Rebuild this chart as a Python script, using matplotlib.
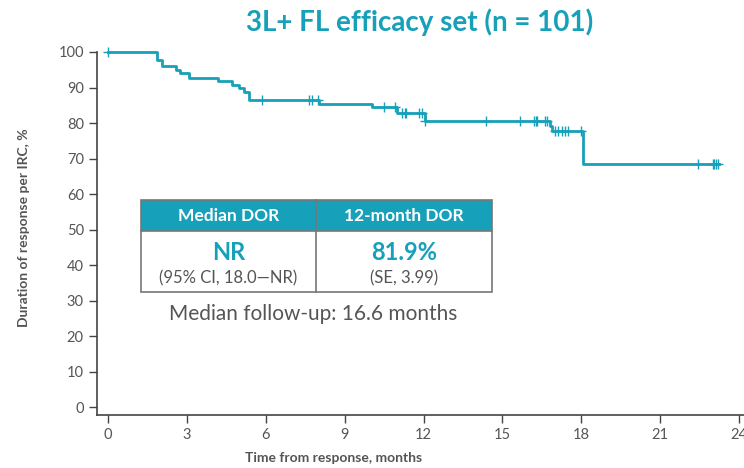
import numpy as np
import matplotlib
matplotlib.use('Agg')
import matplotlib.pyplot as plt
from matplotlib.patches import Rectangle

# KM step function (months, % in response)
step_times = [0, 1.88, 2.04, 2.6, 2.75, 3.06, 4.2, 4.7, 4.98, 5.18, 5.35,
              8.02, 10.05, 11.0, 12.04, 16.8, 16.9, 18.08]
step_surv = [100, 97.8, 96.0, 95.0, 94.0, 92.6, 91.7, 90.8, 89.8, 88.6, 86.5,
             85.3, 84.6, 82.9, 80.5, 79.2, 77.7, 68.4]
end_time = 23.25

# censored observations (months)
censor_times = [0, 5.85, 7.63, 7.76, 8.0, 10.49, 10.9, 11.19, 11.28, 11.35,
                11.82, 11.95, 12.07, 14.36, 15.67, 16.2, 16.27, 16.33, 16.62,
                16.71, 16.99, 17.12, 17.25, 17.37, 17.5, 17.98, 22.45, 22.99,
                23.06, 23.12, 23.2]

x_ticks = [0, 3, 6, 9, 12, 15, 18, 21, 24]
y_ticks = [0, 10, 20, 30, 40, 50, 60, 70, 80, 90, 100]

title = '3L+ FL efficacy set (n = 101)'
table_head = ['Median DOR', '12-month DOR']
table_main = ['NR', '81.9%']
table_sub = ['(95% CI, 18.0\u2014NR)', '(SE, 3.99)']
follow_up = 'Median follow-up: 16.6 months'

teal = '#17A0B9'
grey = '#555555'
W, H = 744, 468

plt.rcParams['font.family'] = ['Lato', 'DejaVu Sans']

fig = plt.figure(figsize=(W / 100, H / 100), dpi=100)
# axes box in pixels: left 97, right 747, bottom 415, top 52 (from top)
ax = fig.add_axes([97 / W, (H - 415) / H, 650 / W, 363 / H])

t = list(step_times) + [end_time]
s = list(step_surv) + [step_surv[-1]]
ax.step(t, s, where='post', color=teal, lw=2, clip_on=False, zorder=3)

idx = np.searchsorted(step_times, censor_times, side='right') - 1
cy = np.array(step_surv)[idx]
ax.plot(censor_times, cy, ls='none', marker='+', ms=7, mew=1,
        color=teal, clip_on=False, zorder=4)

ax.set_xlim(-0.42, 24.3)
ax.set_ylim(-2.25, 100)
ax.set_xticks(x_ticks)
ax.set_yticks(y_ticks)
for sp in ['top', 'right']:
    ax.spines[sp].set_visible(False)
for sp in ['left', 'bottom']:
    ax.spines[sp].set_color('#444444')
    ax.spines[sp].set_linewidth(1.2)
ax.tick_params(direction='out', length=6, width=1, color='#444444',
               labelcolor=grey, labelsize=10.5)

fig.text(334 / W, 1 - 458 / H, 'Time from response, months', ha='center',
         va='center', fontsize=10, fontweight='bold', color=grey)
fig.text(24 / W, 1 - 228 / H, 'Duration of response per IRC, %', ha='center',
         va='center', rotation=90, fontsize=10, fontweight='bold', color=grey)
fig.text(420 / W, 1 - 22 / H, title, ha='center', va='center',
         fontsize=20, fontweight='bold', color=teal)

# summary table (pixel layout)
def fx(px):
    return px / W

def fy(py):
    return 1 - py / H

x0, x1, xm = 141, 492, 316
y0, yh, y1 = 200, 231, 292
fig.add_artist(Rectangle((fx(x0), fy(yh)), fx(x1) - fx(x0), fy(y0) - fy(yh),
                         transform=fig.transFigure, facecolor=teal,
                         edgecolor='none'))
fig.add_artist(Rectangle((fx(x0), fy(y1)), fx(x1) - fx(x0), fy(y0) - fy(y1),
                         transform=fig.transFigure, facecolor='none',
                         edgecolor='#777777', lw=1.2))
fig.add_artist(plt.Line2D([fx(xm), fx(xm)], [fy(y0), fy(y1)],
                          transform=fig.transFigure, color='#777777', lw=1.2))
fig.add_artist(plt.Line2D([fx(x0), fx(x1)], [fy(yh), fy(yh)],
                          transform=fig.transFigure, color='#777777', lw=1.2))

centers = [(x0 + xm) / 2, (xm + x1) / 2]
for i, cx in enumerate(centers):
    fig.text(fx(cx), fy(216), table_head[i], ha='center', va='center',
             fontsize=12.5, fontweight='bold', color='white')
    fig.text(fx(cx), fy(252), table_main[i], ha='center', va='center',
             fontsize=17, fontweight='bold', color=teal)
    fig.text(fx(cx), fy(278), table_sub[i], ha='center', va='center',
             fontsize=12, color=grey)

fig.text(fx(313), fy(314), follow_up, ha='center', va='center',
         fontsize=15, color=grey)

fig.savefig('out.png', dpi=100)
